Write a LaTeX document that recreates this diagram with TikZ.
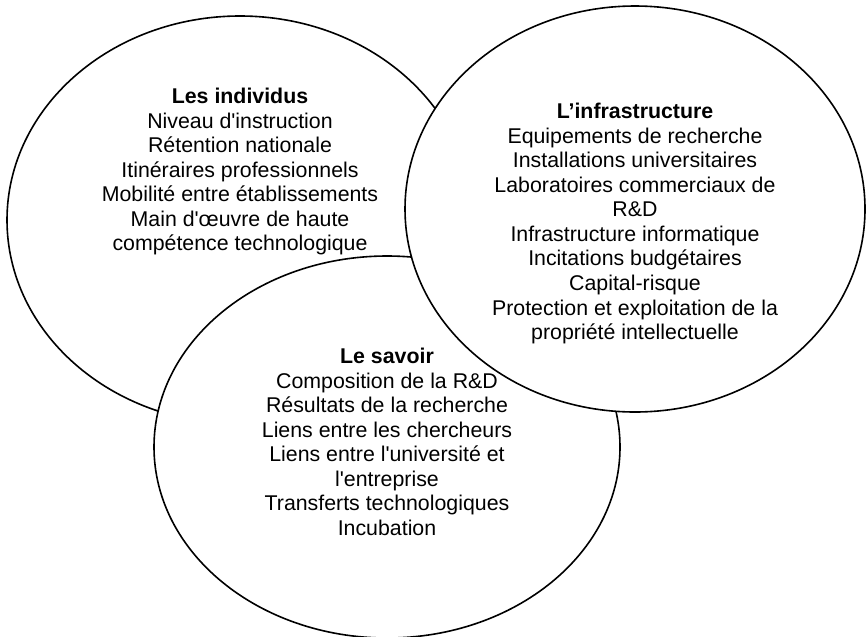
\documentclass[tikz,border=0pt]{standalone}
\usepackage{fontspec}
\usetikzlibrary{shapes.geometric}
\newfontfamily\bodyfont{Liberation Sans}
\begin{document}
\begin{tikzpicture}[x=0.75pt,y=-0.75pt,
  venn/.style={ellipse, draw=black, fill=white, line width=1.2pt, inner sep=0pt},
  txt/.style={align=center, font=\bodyfont\fontsize{16}{18.4}\selectfont, inner sep=0pt, anchor=north},
  head/.style={font=\bfseries}]
\useasboundingbox (0,0) rectangle (866,636);
\node[venn, minimum width=349.5pt, minimum height=306pt] (individus) at (240,220) {};
\node[venn, minimum width=349.5pt, minimum height=286.5pt] (savoir) at (387,447) {};
\node[venn, minimum width=345pt, minimum height=304.5pt] (infra) at (635,209) {};
\node[txt] (tind) at (240,88) {{\bfseries Les individus}\\Niveau d'instruction\\R\'etention nationale\\Itin\'eraires professionnels\\Mobilit\'e entre \'etablissements\\Main d'\oe uvre de haute\\comp\'etence technologique};
\node[txt] (tinf) at (635,103) {{\bfseries L’infrastructure}\\Equipements de recherche\\Installations universitaires\\Laboratoires commerciaux de\\R\&D\\Infrastructure informatique\\Incitations budg\'etaires\\Capital-risque\\Protection et exploitation de la\\propri\'et\'e intellectuelle};
\node[txt] (tsav) at (387,348) {{\bfseries Le savoir}\\Composition de la R\&D\\R\'esultats de la recherche\\Liens entre les chercheurs\\Liens entre l'universit\'e et\\l'entreprise\\Transferts technologiques\\Incubation};
\end{tikzpicture}
\end{document}
